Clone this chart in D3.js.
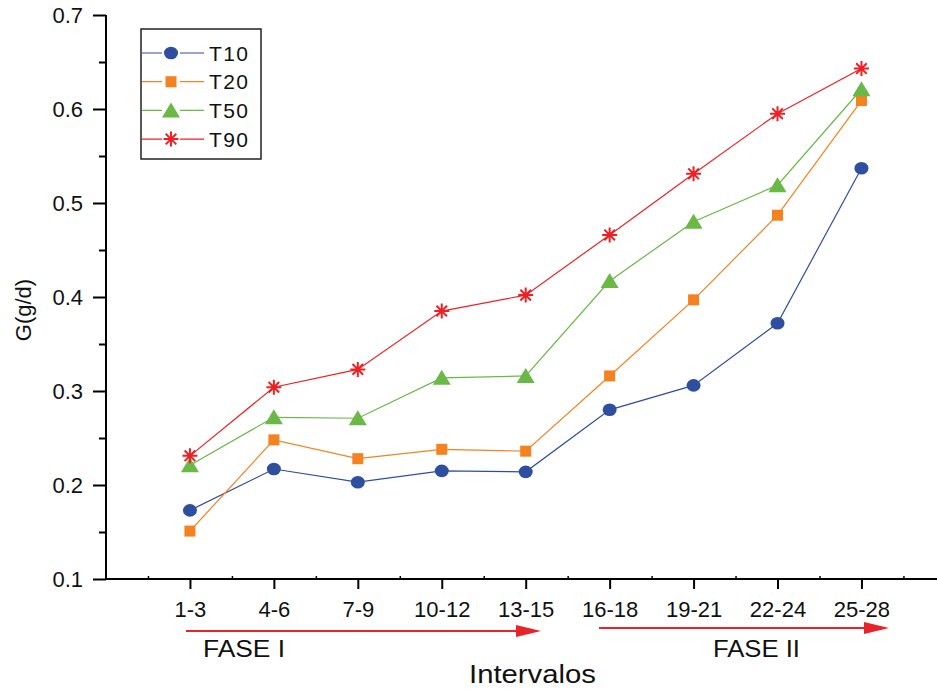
<!DOCTYPE html>
<html>
<head>
<meta charset="utf-8">
<script src="https://cdn.jsdelivr.net/npm/d3@7"></script>
<style>
  body { margin: 0; background: #fff; }
  text { font-family: "Liberation Sans", Arial, sans-serif; fill: #111; }
</style>
</head>
<body>
<script>
  // chart data
  const categories = ['1-3', '4-6', '7-9', '10-12', '13-15', '16-18', '19-21', '22-24', '25-28'];
  const t10 = [0.173, 0.217, 0.203, 0.215, 0.214, 0.280, 0.306, 0.372, 0.537];
  const t20 = [0.151, 0.248, 0.228, 0.238, 0.236, 0.316, 0.397, 0.487, 0.609];
  const t50 = [0.221, 0.272, 0.271, 0.314, 0.316, 0.417, 0.480, 0.519, 0.621];
  const t90 = [0.231, 0.304, 0.323, 0.385, 0.402, 0.466, 0.531, 0.595, 0.643];
  const yTicks = [0.1, 0.2, 0.3, 0.4, 0.5, 0.6, 0.7];

  const series = [
    { name: 'T10', values: t10, color: '#2e4ea0', symbol: 'circle' },
    { name: 'T20', values: t20, color: '#f58220', symbol: 'square' },
    { name: 'T50', values: t50, color: '#6ab845', symbol: 'triangle' },
    { name: 'T90', values: t90, color: '#ee2024', symbol: 'star' }
  ];

  const width = 938, height = 690;
  const svg = d3.select('body').append('svg').attr('width', width).attr('height', height);

  const x = d3.scaleLinear().domain([0, 9.9]).range([106, 937]);
  const y = d3.scaleLinear().domain([0.1, 0.7]).range([579, 15]);

  // y axis
  const yAxis = svg.append('g').attr('transform', 'translate(106,0)')
    .call(d3.axisLeft(y).tickValues(yTicks).tickFormat(d3.format('.1f')).tickSize(13).tickPadding(10));
  yAxis.select('.domain').attr('stroke-width', 2).attr('d', 'M0,15V579');
  yAxis.selectAll('.tick line').attr('stroke-width', 2);
  yAxis.selectAll('text').attr('font-size', 22);
  svg.append('g').attr('transform', 'translate(106,0)')
    .call(d3.axisLeft(y).tickValues(d3.range(0.15, 0.7, 0.1)).tickSize(7).tickFormat(''))
    .call(g => g.select('.domain').remove())
    .selectAll('.tick line').attr('stroke-width', 2);

  // x axis
  const xAxis = svg.append('g').attr('transform', 'translate(0,579)')
    .call(d3.axisBottom(x).tickValues(d3.range(1, 10)).tickFormat(i => categories[i - 1]).tickSize(10).tickPadding(12));
  xAxis.select('.domain').attr('stroke-width', 2).attr('d', 'M106,0H937');
  xAxis.selectAll('.tick line').attr('stroke-width', 2);
  xAxis.selectAll('text').attr('font-size', 22);
  svg.append('g').attr('transform', 'translate(0,579)')
    .call(d3.axisTop(x).tickValues(d3.range(0.5, 9.9, 1)).tickSize(3).tickFormat(''))
    .call(g => g.select('.domain').remove())
    .selectAll('.tick line').attr('stroke-width', 1.5);

  // series lines
  const line = d3.line().x((d, i) => x(i + 1)).y(d => y(d));
  series.forEach(s => {
    svg.append('path').datum(s.values).attr('d', line)
      .attr('fill', 'none').attr('stroke', s.color).attr('stroke-width', 1.2);
  });

  function marker(g, s, cx, cy) {
    if (s.symbol === 'circle') {
      g.append('ellipse').attr('cx', cx).attr('cy', cy).attr('rx', 7).attr('ry', 6.3).attr('fill', s.color);
    } else if (s.symbol === 'square') {
      g.append('rect').attr('x', cx - 5.5).attr('y', cy - 5.5).attr('width', 11).attr('height', 11).attr('fill', s.color);
    } else if (s.symbol === 'triangle') {
      g.append('path').attr('d', `M${cx},${cy - 8}L${cx + 9},${cy + 7}L${cx - 9},${cy + 7}Z`).attr('fill', s.color);
    } else {
      const r = 7.5;
      let d = '';
      [0, 45, 90, 135].forEach(a => {
        const rad = a * Math.PI / 180, dx = r * Math.cos(rad), dy = r * Math.sin(rad);
        d += `M${cx - dx},${cy - dy}L${cx + dx},${cy + dy}`;
      });
      g.append('path').attr('d', d).attr('stroke', s.color).attr('stroke-width', 2);
    }
  }

  series.forEach(s => {
    const g = svg.append('g');
    s.values.forEach((v, i) => marker(g, s, x(i + 1), y(v)));
  });

  // legend
  const lg = svg.append('g');
  lg.append('rect').attr('x', 141).attr('y', 29).attr('width', 120).attr('height', 130)
    .attr('fill', '#fff').attr('stroke', '#222').attr('stroke-width', 1.5);
  series.forEach((s, i) => {
    const ly = 53 + i * 28.7;
    lg.append('line').attr('x1', 142).attr('x2', 204).attr('y1', ly).attr('y2', ly)
      .attr('stroke', s.color).attr('stroke-width', 1.2);
    lg.append('rect').attr('x', 162).attr('y', ly - 8).attr('width', 18).attr('height', 16).attr('fill', '#fff');
    marker(lg, s, 171, ly);
    lg.append('text').attr('x', 209).attr('y', ly + 7.5).attr('font-size', 21)
      .attr('textLength', 39).attr('lengthAdjust', 'spacing').text(s.name);
  });

  // phase arrows
  const arrows = [
    { x1: 186, x2: 541, y: 631, label: 'FASE I', lx: 203, lw: 82 },
    { x1: 599, x2: 889, y: 628, label: 'FASE II', lx: 713, lw: 87 }
  ];
  arrows.forEach(a => {
    svg.append('line').attr('x1', a.x1).attr('x2', a.x2 - 20).attr('y1', a.y).attr('y2', a.y)
      .attr('stroke', '#e8232a').attr('stroke-width', 2);
    svg.append('path').attr('d', `M${a.x2},${a.y}L${a.x2 - 25},${a.y - 6}L${a.x2 - 25},${a.y + 6}Z`).attr('fill', '#e8232a');
    svg.append('text').attr('x', a.lx).attr('y', 657).attr('font-size', 23)
      .attr('textLength', a.lw).attr('lengthAdjust', 'spacingAndGlyphs').text(a.label);
  });

  // axis titles
  svg.append('text').attr('x', 469).attr('y', 683).attr('font-size', 25)
    .attr('textLength', 127).attr('lengthAdjust', 'spacingAndGlyphs').text('Intervalos');
  svg.append('text').attr('transform', 'translate(31,310) rotate(-90)').attr('text-anchor', 'middle')
    .attr('font-size', 22).text('G(g/d)');
</script>
</body>
</html>
